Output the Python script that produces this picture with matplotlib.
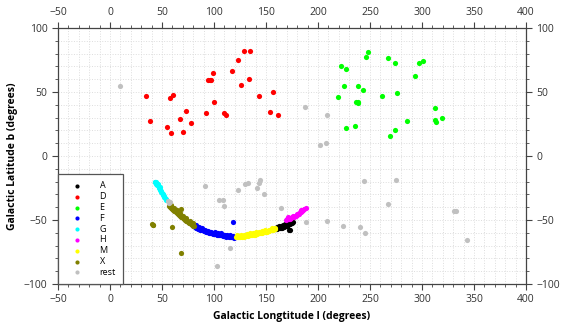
import matplotlib
matplotlib.use("Agg")
import matplotlib.pyplot as plt
from matplotlib.ticker import MultipleLocator

plt.rcParams["font.family"] = ["Open Sans", "DejaVu Sans"]

# --- data (galactic l, b in degrees) ---
A_l = [159, 160, 161, 162, 163, 164, 165, 166, 167, 168, 169, 170, 171, 172, 173, 174, 175, 176, 172.5, 173.5,
       160.5, 162.5, 164.5, 166.5, 168.5, 170.5, 172.5, 174.5]
A_b = [-57, -56.5, -57, -56.5, -56.5, -56, -56, -55.5, -55.5, -55, -55, -54.5, -54, -53.5, -53, -52.5, -52, -51.5,
       -57.5, -58, -55.5, -55, -54.5, -54, -53.5, -53, -52, -51]

D_l = [34.3, 38.5, 57.4, 60.3, 54.5, 58.3, 67.3, 73.1, 69.9, 78.2, 92.0, 94.6, 95.8, 96.8, 99.0,
       100.3, 109.3, 111.9, 117.6, 123.4, 125.6, 128.5, 134.6, 133.7, 143.0, 156.4, 153.8, 161.5]
D_b = [46.5, 27.4, 45.4, 47.8, 22.7, 18.0, 29.2, 35.5, 18.5, 25.8, 33.9, 59.0, 59.3, 59.0, 65.0,
       41.8, 33.9, 31.9, 66.6, 74.9, 55.1, 81.7, 81.7, 60.1, 46.5, 50.1, 34.5, 31.9]

E_l = [222.1, 226.6, 225.0, 218.9, 227.2, 235.6, 236.8, 238.0, 238.8, 238.1, 243.2, 245.8, 247.7,
       261.5, 267.6, 273.7, 275.6, 269.2, 274.3, 285.9, 292.9, 297.4, 300.9, 312.8, 312.8, 313.4, 318.9]
E_b = [70.2, 68.1, 54.8, 46.0, 21.7, 23.2, 42.0, 41.5, 42.2, 54.3, 51.7, 77.0, 81.2,
       47.0, 76.5, 72.3, 49.6, 15.4, 20.1, 27.4, 62.4, 72.8, 74.4, 37.6, 28.2, 26.9, 29.8]

F_l = [81, 82, 83, 84, 85, 86, 87, 88, 89, 90, 91, 92, 93, 94, 95, 96, 97, 98, 99, 100, 101, 102,
       103, 104, 105, 106, 107, 108, 109, 110, 111, 112, 113, 114, 115, 116, 117, 118, 119, 120, 118.3,
       82.5, 85.5, 88.5, 91.5, 94.5, 97.5, 100.5, 103.5, 106.5, 109.5, 112.5, 115.5, 118.5]
F_b = [-55, -55.5, -56.5, -56, -57, -57, -57.5, -58, -57.5, -58.5, -58.5, -59, -59.5, -59, -60, -60,
       -60.5, -60, -61, -61, -60.5, -61, -61.5, -61.5, -62, -61.5, -62, -62, -62.5, -62.5, -62,
       -63, -62.5, -63, -63, -63.5, -63.5, -63, -64, -63.5, -51.6,
       -54, -55.5, -56.5, -57.5, -58.5, -59, -59.5, -60.5, -60.5, -61.5, -61.5, -62, -62.5]

G_l = [43, 43.5, 44, 44.5, 45, 45.5, 46, 46.5, 47, 47.5, 48, 48.5, 49, 49.5, 50, 50.5, 51, 51.5, 52, 53, 53.5, 54,
       44.5, 46.5, 48.5]
G_b = [-20.5, -20, -21, -21.5, -21.8, -22.5, -23, -22.5, -24, -24.8, -25.5, -26.5, -27.5, -28.3, -29,
       -29.8, -30.5, -31.2, -32, -33, -33.5, -34.2, -20.5, -22, -24.5]

H_l = [169, 170, 171, 172, 173, 174, 175, 176, 177, 178, 179, 180, 181, 182, 183, 184, 185, 186, 187, 188,
       171.5, 175.5, 179.5, 183.5]
H_b = [-50, -49.5, -49.5, -49, -49, -48.5, -48, -48, -47.5, -47, -46.5, -46, -45.5, -45, -44, -43.5,
       -43, -42.5, -41.5, -40.5, -48, -46.5, -45, -42.5]

M_l = [121, 122, 123, 124, 125, 126, 127, 128, 129, 130, 131, 132, 133, 134, 135, 136, 137, 138, 139,
       140, 141, 142, 143, 144, 145, 146, 147, 148, 149, 150, 151, 152, 153, 154, 155, 156, 157, 158, 159,
       122.5, 125.5, 128.5, 131.5, 134.5, 137.5, 140.5, 143.5, 146.5, 149.5, 152.5, 155.5, 158.5]
M_b = [-63.5, -63, -63.5, -63, -63, -62.5, -63, -62.5, -63, -62.5, -62.5, -62, -62.5, -62, -62, -61.5,
       -62, -61.5, -61.5, -61, -61, -60.5, -60.5, -60, -60, -60, -59.5, -59.5, -59.5, -59, -59, -58.5,
       -58.5, -58, -58, -57.5, -57.5, -57, -57,
       -62, -61.5, -61.5, -61, -60.5, -60.5, -59.5, -59, -58.5, -58, -57.5, -56.5, -56]

X_l = [57, 58, 59, 60, 61, 62, 63, 64, 65, 66, 67, 68, 69, 70, 71, 72, 73, 74, 75, 76, 77, 78, 79, 80, 81,
       58.5, 61.5, 64.5, 67.5, 70.5, 73.5, 76.5, 79.5,
       40.2, 41.0, 41.8, 68.6, 59.9, 67.9]
X_b = [-39, -40, -41, -41.5, -42.5, -43, -44, -44.5, -45.5, -46, -47, -47.5, -48, -48.5, -49.5, -50,
       -50.5, -51, -51.5, -52, -52.5, -53.5, -54, -54.5, -55,
       -38.5, -40.5, -42.5, -44.5, -46.5, -48.5, -50.5, -52.5,
       -53.5, -54, -53.6, -41.1, -55.7, -75.8]

rest_l = [9.3, 187.5, 209.0, 201.9, 207.7, 55.5, 56.5, 57.5, 91.7, 104.8, 108.7, 110.0, 122.8, 130.1,
          132.7, 141.7, 142.9, 144.2, 148.1, 115.7, 102.9, 164.0, 188.1, 208.6, 224.0, 240.0, 245.2,
          243.9, 274.7, 267.6, 330.4, 332.7, 343.6]
rest_b = [54.3, 38.6, 31.9, 8.4, 10.4, -35.5, -36.5, -35.8, -23.7, -34.1, -34.1, -38.8, -26.8, -22.1,
          -21.1, -25.0, -20.8, -19.0, -30.0, -71.9, -86.2, -40.6, -51.6, -51.0, -54.4, -55.2, -59.9,
          -19.8, -18.8, -37.8, -43.2, -43.2, -65.4]

groups = [
    ("A", A_l, A_b, "#000000"),
    ("D", D_l, D_b, "#ff0000"),
    ("E", E_l, E_b, "#00ff00"),
    ("F", F_l, F_b, "#0000ff"),
    ("G", G_l, G_b, "#00ffff"),
    ("H", H_l, H_b, "#ff00ff"),
    ("M", M_l, M_b, "#ffff00"),
    ("X", X_l, X_b, "#808000"),
    ("rest", rest_l, rest_b, "#c0c0c0"),
]

fig = plt.figure(figsize=(5.62, 3.24), dpi=100)
ax = fig.add_axes([58 / 562, 1 - 284 / 324, 468 / 562, 256 / 324])

for name, l, b, c in groups:
    ax.scatter(l, b, s=14, color=c, label=name, linewidths=0, zorder=3)

ax.set_xlim(-50, 400)
ax.set_ylim(-100, 100)
ax.xaxis.set_major_locator(MultipleLocator(50))
ax.xaxis.set_minor_locator(MultipleLocator(10))
ax.yaxis.set_major_locator(MultipleLocator(50))
ax.yaxis.set_minor_locator(MultipleLocator(10))

ax.grid(True, which="both", color="#dddddd", linestyle=":", linewidth=0.7)
ax.set_axisbelow(True)

for sp in ax.spines.values():
    sp.set_color("#444444")
    sp.set_linewidth(0.9)

ax.tick_params(which="both", direction="out", top=True, right=True,
               labeltop=True, labelright=True, colors="#444444",
               labelcolor="#333333", labelsize=7.5)
ax.tick_params(which="major", length=4, width=0.8)
ax.tick_params(which="minor", length=2.5, width=0.6)

ax.set_xlabel("Galactic Longtitude l (degrees)", fontsize=7.5, fontweight="bold", labelpad=4)
ax.set_ylabel("Galactic Latitude b (degrees)", fontsize=7.5, fontweight="bold", labelpad=4)

leg = ax.legend(loc="lower left", borderaxespad=0, fontsize=6.5, frameon=True,
                fancybox=False, handlelength=2.6, handletextpad=1.2,
                borderpad=0.8, labelspacing=0.2, markerscale=0.8, framealpha=1)
leg.get_frame().set_edgecolor("#555555")
leg.get_frame().set_linewidth(0.9)

fig.savefig("out.png", dpi=100)
